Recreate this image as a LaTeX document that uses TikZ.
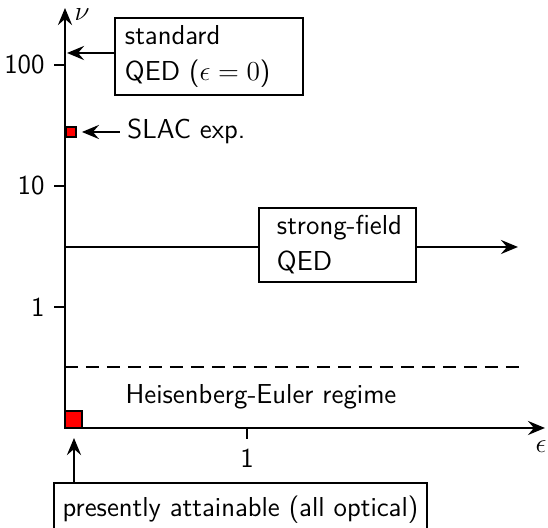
\RequirePackage{fix-cm}
\documentclass[tikz,border=0pt]{standalone}
\usepackage{fontspec}
\usetikzlibrary{arrows.meta}
\begin{document}
\begin{tikzpicture}[x=0.5pt,y=-0.5pt,
  every node/.style={font=\sffamily\fontsize{13.7}{18}\selectfont},
  tip/.tip={Stealth[length=8.5pt,width=7pt,inset=3pt]},
  axisline/.style={line width=1.4pt,-tip},
  tickline/.style={line width=1.4pt},
  frame/.style={draw,line width=1.4pt,inner sep=0pt},
  ann/.style={line width=1.4pt,-tip},
  flow/.style={line width=1.4pt,-tip},
  marker/.style={draw,line width=0.9pt,fill=red,inner sep=0pt}
]
\useasboundingbox (0,0) rectangle (548,528);

% axes
\coordinate (O) at (65,428);
\coordinate (ytip) at (65,8);
\coordinate (xtip) at (545,428);
\draw[axisline] (O) -- (ytip);
\draw[axisline] (O) -- (xtip);
\node (nulab) at (82,15) {$\nu$};
\node (epslab) at (541,447) {$\epsilon$};

% ticks on the nu axis (log scale)
\foreach \yy/\lab/\nm in {65/100/t100,186/10/t10,307/1/t1}{
  \coordinate (\nm) at (65,\yy);
  \draw[tickline] (\nm) -- ++(-11,0) node[anchor=east,inner xsep=4pt] {\lab};
}
% tick on the epsilon axis
\coordinate (e1) at (247,428);
\draw[tickline] (e1) -- ++(0,11) node[anchor=north,inner ysep=4.5pt] {1};

% Heisenberg-Euler boundary
\coordinate (hl) at (65,367);
\coordinate (hr) at (520,367);
\draw[line width=1.4pt,dash pattern=on 6.5pt off 4pt] (hl) -- (hr);
\node (he) at (261,397) {Heisenberg-Euler regime};

% standard QED
\node[frame,minimum width=94pt,minimum height=38.5pt,text width=84pt,align=left] (std) at (209,56.5) {standard\\QED ($\epsilon=0$)};
\coordinate (stdpt) at (67,53);
\draw[ann] (std.west|-stdpt) -- (stdpt);

% SLAC experiment
\node[marker,minimum size=5pt] (slac) at (71,132) {};
\node[anchor=west,inner xsep=3.5pt] (slactxt) at (120,131) {SLAC exp.};
\draw[ann,shorten >=2.5pt] (slactxt.west|-slac) -- (slac.east);

% strong-field QED
\node[frame,minimum width=78.5pt,minimum height=37pt,text width=60.5pt,align=left] (sf) at (337.5,245) {\mbox{strong-field}\\QED};
\coordinate (sfl) at (65,247);
\coordinate (sfr) at (518,247);
\draw[line width=1.4pt] (sfl) -- (sf.west|-sfl);
\draw[flow] (sf.east|-sfr) -- (sfr);

% presently attainable region
\node[marker,minimum size=8.5pt] (now) at (73.5,419.5) {};
\node[frame,minimum width=186.5pt,minimum height=27pt] (pres) at (240.5,510) {presently attainable (all optical)};
\coordinate (presx) at (74,428);
\draw[ann,shorten >=5pt] (pres.north-|presx) -- (presx);
\end{tikzpicture}
\end{document}
